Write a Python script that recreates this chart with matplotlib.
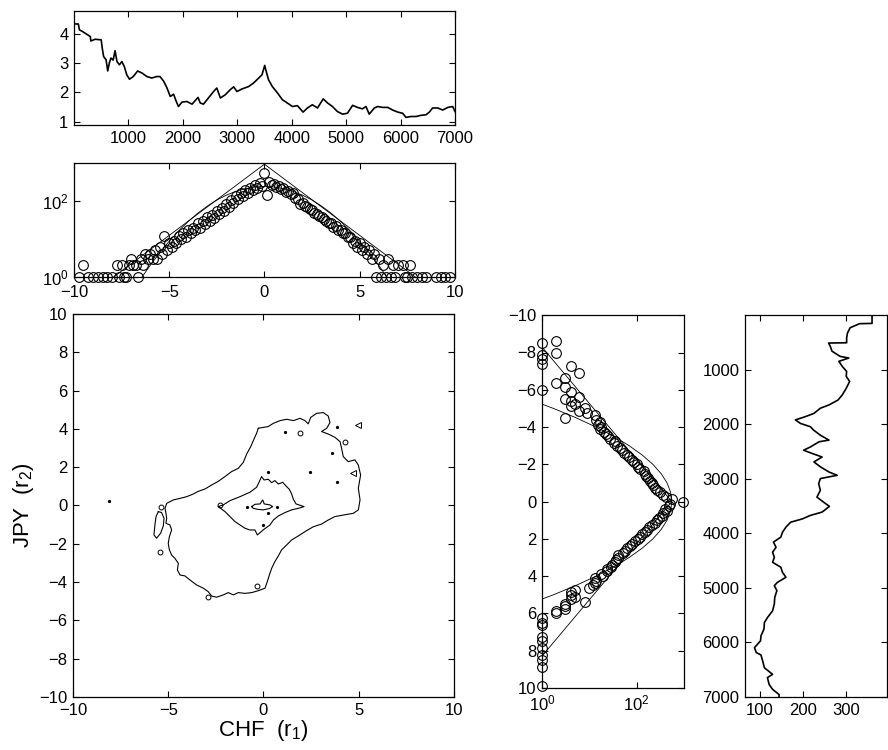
import numpy as np
import matplotlib
matplotlib.use('Agg')
import matplotlib.pyplot as plt
from matplotlib.ticker import NullLocator

plt.rcParams['font.family'] = ['Liberation Sans', 'DejaVu Sans']
plt.rcParams['mathtext.fontset'] = 'custom'
plt.rcParams['mathtext.rm'] = 'Liberation Sans'
plt.rcParams['mathtext.it'] = 'Liberation Sans:italic'
plt.rcParams['mathtext.default'] = 'regular'
plt.rcParams['font.size'] = 12
plt.rcParams['axes.linewidth'] = 0.9

# exchange-rate path (top) and second path (right, rotated)
top_t = [0, 80, 100, 150, 200, 260, 300, 310, 390, 440, 500, 520, 545, 590, 620, 650, 680, 720, 755, 790,
         835, 880, 925, 970, 1020, 1090, 1170, 1250, 1340, 1430, 1520, 1580, 1645, 1705, 1770, 1830, 1880, 1920, 1985, 2075,
         2170, 2280, 2320, 2380, 2470, 2565, 2625, 2690, 2780, 2870, 2935, 2995, 3090, 3210, 3300, 3395, 3455, 3505, 3520, 3575,
         3645, 3740, 3830, 3920, 4015, 4105, 4210, 4290, 4380, 4475, 4580, 4660, 4750, 4840, 4935, 5025, 5120, 5210, 5300, 5365,
         5425, 5520, 5580, 5670, 5765, 5855, 5950, 6040, 6100, 6195, 6285, 6375, 6470, 6530, 6590, 6685, 6775, 6870, 6960, 7000]
top_v = [4.33, 4.33, 4.13, 4.08, 4.02, 3.95, 3.90, 3.75, 3.81, 3.80, 3.79, 3.50, 3.22, 3.11, 2.73, 3.00, 3.17, 3.10, 3.42, 3.05,
         2.94, 3.05, 2.88, 2.60, 2.45, 2.54, 2.73, 2.66, 2.54, 2.49, 2.54, 2.54, 2.39, 2.17, 1.86, 1.94, 1.69, 1.52, 1.67, 1.69,
         1.60, 1.83, 1.64, 1.60, 1.81, 2.03, 2.15, 1.81, 1.92, 2.09, 2.19, 2.03, 2.12, 2.20, 2.32, 2.49, 2.60, 2.92, 2.80, 2.43,
         2.20, 1.98, 1.75, 1.64, 1.52, 1.55, 1.33, 1.47, 1.58, 1.47, 1.78, 1.64, 1.52, 1.35, 1.26, 1.29, 1.56, 1.49, 1.44, 1.52,
         1.26, 1.47, 1.52, 1.49, 1.49, 1.40, 1.33, 1.29, 1.15, 1.18, 1.18, 1.22, 1.24, 1.33, 1.47, 1.47, 1.40, 1.49, 1.52, 1.35]

side_t = [0, 150, 155, 230, 325, 415, 505, 510, 570, 660, 755, 785, 845, 940, 1030, 1120, 1215, 1340, 1460, 1555,
          1645, 1705, 1800, 1860, 1920, 1985, 2045, 2105, 2200, 2290, 2320, 2415, 2475, 2535, 2600, 2690, 2780, 2875, 2935, 2995,
          3090, 3210, 3335, 3425, 3505, 3610, 3670, 3735, 3795, 3885, 3980, 4070, 4160, 4255, 4345, 4440, 4530, 4620, 4715, 4805,
          4900, 4960, 5050, 5175, 5295, 5420, 5545, 5635, 5755, 5880, 5970, 6095, 6185, 6230, 6340, 6465, 6585, 6645, 6770, 6860,
          6955, 7000]
side_v = [360, 360, 331, 309, 303, 301, 301, 259, 263, 267, 286, 306, 283, 291, 301, 300, 308, 300, 291, 281,
          260, 240, 225, 205, 182, 194, 217, 224, 240, 260, 237, 217, 201, 221, 244, 225, 240, 260, 279, 240,
          236, 240, 232, 247, 261, 244, 217, 198, 171, 160, 152, 148, 131, 137, 129, 133, 129, 148, 152, 160,
          140, 133, 139, 134, 133, 129, 117, 110, 109, 102, 101, 87, 91, 102, 106, 110, 129, 117, 121, 129,
          144, 144]

# histogram counts on bins -10:0.125:10
bin_centres = np.linspace(-10, 10, 161)
r1_counts = [0, 0, 1, 0, 2, 0, 1, 0,
             1, 0, 1, 0, 1, 0, 1, 0,
             1, 0, 2, 1, 2, 1, 1, 2,
             3, 2, 2, 1, 3, 2, 4, 3,
             4, 3, 5, 3, 6, 4, 12, 5,
             8, 6, 9, 8, 12, 10, 14, 11,
             17, 14, 20, 17, 26, 20, 30, 25,
             38, 30, 44, 36, 55, 45, 66, 55,
             85, 70, 108, 90, 135, 112, 165, 140,
             195, 165, 225, 195, 260, 225, 300, 250,
             550,
             145, 320, 270, 290, 240, 250, 205, 220,
             175, 190, 150, 160, 120, 115, 85, 90,
             75, 72, 62, 58, 48, 47, 40, 38,
             33, 30, 27, 27, 21, 22, 17, 17,
             14, 14, 11, 11, 8, 9, 6, 8,
             5, 6, 4, 5, 3, 4, 1, 3,
             1, 2, 1, 3, 1, 2, 1, 2,
             0, 2, 1, 1, 2, 1, 0, 1,
             0, 1, 0, 1, 0, 0, 0, 1,
             0, 1, 0, 1, 0, 1, 0, 0]
r2_counts = [0, 0, 0, 0, 0, 0, 0, 0,
             0, 0, 0, 2, 1, 0, 0, 0,
             2, 1, 0, 1, 0, 1, 4, 0,
             0, 6, 0, 3, 0, 2, 0, 3,
             1, 4, 0, 6, 3, 4, 5, 4,
             8, 6, 9, 13, 3, 14, 17, 15,
             18, 17, 20, 22, 25, 27, 35, 33,
             38, 45, 48, 55, 61, 68, 78, 88,
             100, 108, 118, 140, 149, 160, 175, 190,
             207, 225, 245, 270, 311, 350, 414, 550,
             950,
             500, 470, 400, 427, 360, 339, 290, 263,
             240, 209, 185, 162, 150, 130, 118, 105,
             92, 80, 72, 62, 57, 52, 41, 40,
             36, 35, 30, 28, 24, 23, 18, 19,
             13, 14, 13, 12, 10, 5, 4, 4,
             5, 4, 8, 3, 3, 3, 2, 2,
             0, 1, 0, 1, 1, 0, 0, 0,
             0, 1, 0, 1, 0, 0, 1, 0,
             0, 1, 0, 1, 0, 0, 1, 0,
             0, 0, 0, 0, 0, 0, 1, 0]

# fitted curves: exponential (straight in log) and gaussian
r1_exp_x = [-8, 0, 8]
r1_exp_n = [0.92, 950, 0.92]
r1_gauss_x = [-6.5, -6, -5.5, -5, -4.5, -4, -3.5, -3, -2.5, -2, -1.5, -1, -0.5, 0,
              0.5, 1, 1.5, 2, 2.5, 3, 3.5, 4, 4.5, 5, 5.5, 6, 6.5]
r1_gauss_n = [0.87, 2.0, 4.3, 8.7, 16.4, 29, 48, 74, 107, 144, 182, 215, 237, 245,
              237, 215, 182, 144, 107, 74, 48, 29, 16.4, 8.7, 4.3, 2.0, 0.87]
r2_exp_y = [-8.6, 0, 8.6]
r2_exp_n = [0.79, 550, 0.79]
r2_gauss_y = [-5.5, -5, -4.5, -4, -3.5, -3, -2.5, -2, -1.5, -1, -0.5, 0,
              0.5, 1, 1.5, 2, 2.5, 3, 3.5, 4, 4.5, 5, 5.5]
r2_gauss_n = [0.52, 1.74, 5.2, 13.8, 33, 69, 130, 219, 327, 437, 519, 550,
              519, 437, 327, 219, 130, 69, 33, 13.8, 5.2, 1.74, 0.52]

# joint density contour lines (r1, r2)
outer_x = [-0.27, 0.25, 0.52, 0.87, 1.22, 1.57, 1.92, 2.18, 2.35, 2.48, 2.79, 3.14, 3.40, 3.49, 3.32, 3.05, 3.40, 3.75,
           4.02, 4.10, 4.19, 4.45, 4.80, 4.98, 5.10, 4.98, 5.07, 4.98, 4.72, 4.19, 3.75, 3.40, 3.05, 2.62, 2.27, 1.83,
           1.48, 1.22, 0.95, 0.78, 0.60, 0.43, 0.31, 0.20, 0.08, -0.27, -0.62, -0.97, -1.32, -1.58, -1.85, -2.11, -2.46,
           -2.72, -2.90, -3.16, -3.51, -3.86, -4.12, -4.38, -4.52, -4.47, -4.65, -4.82, -4.94, -5.00, -4.94, -4.82,
           -4.91, -5.12, -5.08, -5.12, -5.17, -5.08, -4.73, -4.38, -4.03, -3.68, -3.42, -3.07, -2.72, -2.37, -2.02,
           -1.67, -1.32, -1.06, -0.88, -0.67, -0.50, -0.36, -0.27]
outer_y = [4.03, 4.12, 4.29, 4.43, 4.50, 4.43, 4.55, 4.43, 4.26, 4.60, 4.81, 4.85, 4.67, 4.33, 4.03, 3.86, 3.73, 3.56,
           3.33, 2.99, 2.55, 2.29, 2.38, 2.11, 1.59, 0.90, 0.29, -0.23, -0.41, -0.50, -0.58, -0.76, -0.97, -1.11, -1.31,
           -1.59, -1.80, -2.06, -2.32, -2.64, -2.93, -3.28, -3.63, -3.98, -4.32, -4.45, -4.55, -4.59, -4.55, -4.67,
           -4.55, -4.67, -4.79, -4.73, -4.50, -4.32, -4.15, -3.89, -3.68, -3.63, -3.37, -3.02, -2.76, -2.59, -2.32,
           -1.98, -1.63, -1.28, -1.02, -0.93, -0.67, -0.41, -0.15, 0.11, 0.29, 0.37, 0.46, 0.60, 0.74, 0.86, 1.07,
           1.26, 1.51, 1.77, 1.94, 2.25, 2.69, 3.07, 3.46, 3.77, 4.03]
leaf_x = [-5.52, -5.64, -5.70, -5.75, -5.61, -5.40, -5.26, -5.22, -5.35, -5.52]
leaf_y = [-0.32, -0.58, -1.02, -1.54, -1.71, -1.45, -1.07, -0.67, -0.37, -0.32]
mid_x = [-2.37, -2.11, -1.76, -1.23, -0.71, -0.36, -0.22, -0.10, 0.03, 0.25, 0.43, 0.60, 0.78, 1.01, 1.18, 1.36,
         1.48, 1.57, 1.71, 2.13, 1.83, 1.48, 1.13, 0.78, 0.52, 0.34, 0.03, -0.32, -0.45, -0.71, -0.97, -1.23, -1.50,
         -1.76, -2.02, -2.25, -2.37]
mid_y = [-0.06, 0.03, 0.25, 0.46, 0.69, 0.95, 1.24, 1.51, 1.33, 1.37, 1.19, 1.30, 1.12, 1.21, 1.02, 0.84,
         0.60, 0.32, 0.08, -0.06, -0.15, -0.23, -0.37, -0.55, -0.76, -1.02, -1.24, -1.54, -1.28, -1.28, -1.19, -1.02,
         -0.84, -0.58, -0.32, -0.15, -0.06]
core_x = [-0.62, -0.45, -0.18, -0.04, 0.04, 0.34, 0.48, 0.31, -0.01, -0.32, -0.53, -0.62]
core_y = [-0.06, 0.06, 0.08, 0.29, 0.08, 0.03, -0.06, -0.16, -0.23, -0.20, -0.15, -0.06]
speck_x = [-0.88, 0.69, 0.25, -0.01, 1.13, 3.84, 3.58, 0.25, 2.44, 3.84, -8.09]
speck_y = [-0.06, -0.06, -0.37, -1.02, 3.86, 4.12, 2.72, 1.77, 1.77, 1.24, 0.24]
ring_x = [-0.36, -2.90, -5.43, -5.40, 4.28, 1.92, -2.30]
ring_y = [-4.20, -4.76, -2.41, -0.06, 3.33, 3.77, 0.02]
tri_x = [4.98, 4.72]
tri_y = [4.20, 1.71]

fig = plt.figure(figsize=(8.88, 7.5), dpi=100)


def style(ax):
    ax.tick_params(direction='in', top=True, right=True, length=4, width=0.8, labelsize=12, pad=4)


circ = dict(linestyle='none', marker='o', mfc='none', mec='k', ms=7, mew=0.8, clip_on=False)

# top: time series of r1 level
ax1 = fig.add_axes([0.0833, 0.8333, 0.429, 0.152])
ax1.plot(top_t, top_v, color='k', lw=1.2)
ax1.set_xlim(0, 7000)
ax1.set_ylim(0.89, 4.77)
ax1.set_xticks(range(1000, 8000, 1000))
ax1.set_yticks([1, 2, 3, 4])
style(ax1)

# histogram of r1
ax2 = fig.add_axes([0.0833, 0.631, 0.429, 0.1512])
r1 = np.array(r1_counts)
ax2.plot(bin_centres[r1 > 0], r1[r1 > 0], **circ)
ax2.plot(r1_exp_x, r1_exp_n, color='k', lw=0.6)
ax2.plot(r1_gauss_x, r1_gauss_n, color='k', lw=0.6)
ax2.set_yscale('log')
ax2.set_xlim(-10, 10)
ax2.set_ylim(1, 1000)
ax2.set_xticks([-10, -5, 0, 5, 10])
ax2.set_yticks([1, 100])
ax2.set_yticklabels(['$10^0$', '$10^2$'])
ax2.yaxis.set_minor_locator(NullLocator())
style(ax2)
ax2.tick_params(axis='x', pad=6)

# joint contours
ax3 = fig.add_axes([0.0822, 0.0707, 0.429, 0.5107])
for cx, cy in [(outer_x, outer_y), (leaf_x, leaf_y), (mid_x, mid_y), (core_x, core_y)]:
    ax3.plot(cx, cy, color='k', lw=0.8)
ax3.plot(speck_x, speck_y, linestyle='none', marker='o', ms=1.3, color='k')
ax3.plot(ring_x, ring_y, linestyle='none', marker='o', ms=3.5, mfc='none', mec='k', mew=0.7)
ax3.plot(tri_x, tri_y, linestyle='none', marker='<', ms=4, mfc='none', mec='k', mew=0.7)
ax3.set_xlim(-10, 10)
ax3.set_ylim(-10, 10)
ax3.set_xticks([-10, -5, 0, 5, 10])
ax3.set_yticks(range(-10, 11, 2))
ax3.set_xlabel('CHF  (r$_1$)', fontsize=16, labelpad=0)
ax3.set_ylabel('JPY  (r$_2$)', fontsize=16, labelpad=2)
style(ax3)

# histogram of r2, rotated
ax4 = fig.add_axes([0.6104, 0.0827, 0.160, 0.497])
r2 = np.array(r2_counts)
ax4.plot(r2[r2 > 0], bin_centres[r2 > 0], **circ)
ax4.plot(r2_exp_n, r2_exp_y, color='k', lw=0.6)
ax4.plot(r2_gauss_n, r2_gauss_y, color='k', lw=0.6)
ax4.set_xscale('log')
ax4.set_xlim(1, 1000)
ax4.set_ylim(10, -10)
ax4.set_xticks([1, 100])
ax4.set_xticklabels(['$10^0$', '$10^2$'])
ax4.xaxis.set_minor_locator(NullLocator())
ax4.set_yticks(range(-10, 11, 2))
style(ax4)

# time series of r2 level, rotated
ax5 = fig.add_axes([0.839, 0.0707, 0.160, 0.509])
ax5.plot(side_v, side_t, color='k', lw=1.2)
ax5.set_xlim(65, 395)
ax5.set_ylim(7000, 0)
ax5.set_xticks([100, 200, 300])
ax5.set_yticks(range(1000, 8000, 1000))
style(ax5)

fig.savefig('out.png', dpi=100)
